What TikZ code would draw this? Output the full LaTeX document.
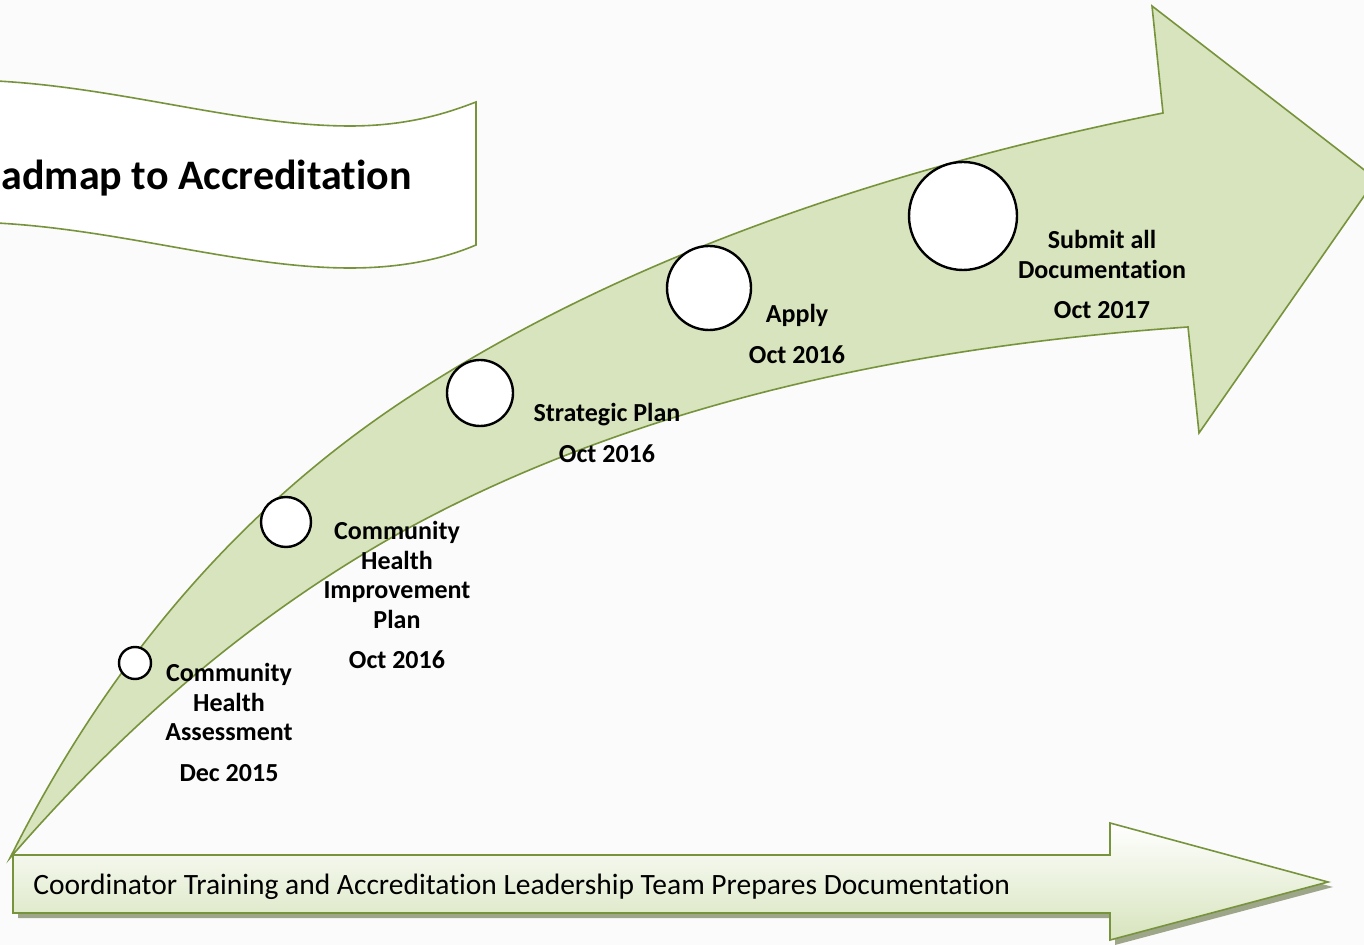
\documentclass[tikz,border=0pt]{standalone}
\usepackage{fontspec}
\setmainfont{Carlito}[Ligatures=NoCommon]
\usetikzlibrary{shadows}
\definecolor{leaf}{RGB}{215,228,189}
\definecolor{olive}{RGB}{119,147,60}
\definecolor{shade}{RGB}{158,166,138}
\definecolor{paper}{RGB}{251,251,251}

\begin{document}
\begin{tikzpicture}[x=0.5pt, y=-0.5pt,
    milestone/.style={circle, draw=black, line width=1.2pt, fill=white, inner sep=0pt},
    lbl/.style={anchor=north, align=center, inner sep=0pt, font=\bfseries\fontsize{13}{14.75}\selectfont}]
\useasboundingbox (0,0) rectangle (1364,945);
\fill[paper] (0,0) rectangle (1364,945);

% banner
\draw[olive, line width=0.8pt, fill=white] (-40,80) .. controls (100,80) and (230,126) .. (350,126)
    .. controls (410,126) and (450,112) .. (476,102) -- (476,245)
    .. controls (450,256) and (410,268) .. (350,268) .. controls (230,268) and (100,222) .. (-40,222) -- cycle;
\node[anchor=base east, inner sep=0pt, font=\bfseries\fontsize{21}{25}\selectfont] (title) at (412,190) {admap to Accreditation};

% straight arrow
\draw[olive, line width=0.8pt, top color=white, bottom color=leaf,
    drop shadow={shadow xshift=2.5pt, shadow yshift=-2.5pt, fill=shade, opacity=1}]
    (13,855) -- (1110,855) -- (1110,823) -- (1328,882) -- (1110,940) -- (1110,913) -- (13,913) -- cycle;
\node[anchor=west, inner sep=0pt, font=\fontsize{14.75}{17}\selectfont] (training) at (33,887)
    {Coordinator Training and Accreditation Leadership Team Prepares Documentation};

% curved arrow
\draw[olive, line width=0.8pt, fill=leaf]
    (10,858) .. controls (107,664) and (237,512) .. (400,403)
    .. controls (595,273) and (849,176) .. (1163,113)
    -- (1152,6) -- (1376,179) -- (1199,433) -- (1188,327)
    .. controls (872,349) and (611,417) .. (405,530)
    .. controls (264,608) and (132,717) .. (10,858) -- cycle;

% milestones
\node[milestone, minimum size=16pt] (cha) at (135,663) {};
\node[milestone, minimum size=25pt] (chip) at (286,522) {};
\node[milestone, minimum size=33pt] (plan) at (480,393) {};
\node[milestone, minimum size=42pt] (apply) at (709,288) {};
\node[milestone, minimum size=54pt] (submit) at (963,216) {};

\node[lbl] (chatext) at (229,663) {Community\\Health\\Assessment\\[5.5pt]Dec 2015};
\node[lbl] (chiptext) at (397,521) {Community\\Health\\Improvement\\Plan\\[5.5pt]Oct 2016};
\node[lbl] (plantext) at (607,403) {Strategic Plan\\[5.5pt]Oct 2016};
\node[lbl] (applytext) at (797,304) {Apply\\[5.5pt]Oct 2016};
\node[lbl] (submittext) at (1102,230) {Submit all\\Documentation\\[5.5pt]Oct 2017};

\end{tikzpicture}
\end{document}
